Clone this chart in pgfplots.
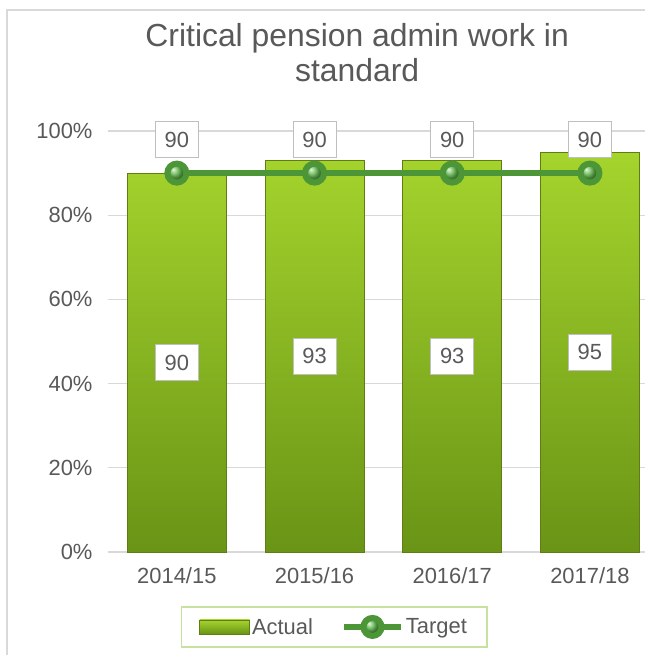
\documentclass[border=0pt]{standalone}
\usepackage{fontspec}
\setmainfont{Liberation Sans}
\usepackage{pgfplots}
\pgfplotsset{compat=1.18}
\definecolor{txt}{RGB}{89,89,89}
\definecolor{gridc}{RGB}{217,217,217}
\definecolor{bartop}{RGB}{165,212,45}
\definecolor{barbot}{RGB}{105,148,22}
\definecolor{baredge}{RGB}{95,125,18}
\definecolor{tline}{RGB}{76,150,56}
\definecolor{tball}{RGB}{95,185,75}
\definecolor{legbord}{RGB}{200,225,160}
\pgfdeclareplotmark{ball}{\shade[ball color=tball] (0pt,0pt) circle (\pgfplotmarksize);}
\begin{document}
\begin{tikzpicture}
\path[use as bounding box] (-108bp,-103bp) rectangle (537bp,552bp);
\fill[white] (-108bp,-103bp) rectangle (537bp,552bp);
\draw[gridc, line width=1.5bp] (-101bp,-120bp) rectangle (560bp,542bp);
\begin{axis}[
  scale only axis, width=537bp, height=421bp,
  xmin=-0.5, xmax=3.4, ymin=0, ymax=100,
  xtick={0,1,2,3}, xticklabels={2014/15,2015/16,2016/17,2017/18},
  ytick={0,20,40,60,80,100}, yticklabels={0\%,20\%,40\%,60\%,80\%,100\%},
  axis line style={draw=none},
  axis x line*=bottom, axis y line*=left,
  tick style={draw=none},
  ymajorgrids, grid style={gridc, line width=1.2bp},
  tick label style={font=\fontsize{22}{25}\selectfont, text=txt},
  xticklabel style={yshift=-12bp},
  yticklabel style={xshift=-12bp},
  title={Critical pension admin work in\\standard},
  title style={at={(0.464,1.173)}, anchor=center, align=center, text=txt,
    font=\fontsize{32}{35}\selectfont},
  legend style={at={(0.421,-0.178)}, anchor=center, legend columns=2,
    draw=legbord, line width=1.5bp, font=\fontsize{22}{25}\selectfont, text=txt,
    inner xsep=18bp, inner ysep=8bp,
    /tikz/every even column/.append style={column sep=26bp}},
  clip=false,
]
\addplot[ybar, bar width=99bp, draw=baredge, line width=0.8bp,
  top color=bartop, bottom color=barbot,
  legend image code/.code={\draw[draw=baredge, top color=bartop, bottom color=barbot] (0bp,-7bp) rectangle (50bp,7bp);}]
  coordinates {(0,90) (1,93) (2,93) (3,95)};
\addlegendentry{Actual}
\addplot[tline, line width=6bp, mark=ball, mark size=9.5bp,
  nodes near coords, point meta=explicit symbolic,
  every node near coord/.append style={anchor=south, yshift=15bp, fill=white,
    draw=gray!50, line width=1bp, text=txt, minimum width=43bp, minimum height=36bp,
    inner sep=0pt, font=\fontsize{22}{24}\selectfont},
  legend image code/.code={\draw[tline, line width=6bp] (0bp,0bp) -- (57bp,0bp);
    \shade[ball color=tball] (28.5bp,0bp) circle (9bp);}]
  coordinates {(0,90)[90] (1,90)[90] (2,90)[90] (3,90)[90]};
\addlegendentry{Target}
\addplot[draw=none, mark=none, forget plot,
  nodes near coords, point meta=explicit symbolic,
  every node near coord/.append style={anchor=center, fill=white,
    draw=gray!50, line width=1bp, text=txt, minimum width=43bp, minimum height=36bp,
    inner sep=0pt, font=\fontsize{22}{24}\selectfont}]
  coordinates {(0,45)[90] (1,46.5)[93] (2,46.5)[93] (3,47.5)[95]};
\end{axis}
\end{tikzpicture}
\end{document}
